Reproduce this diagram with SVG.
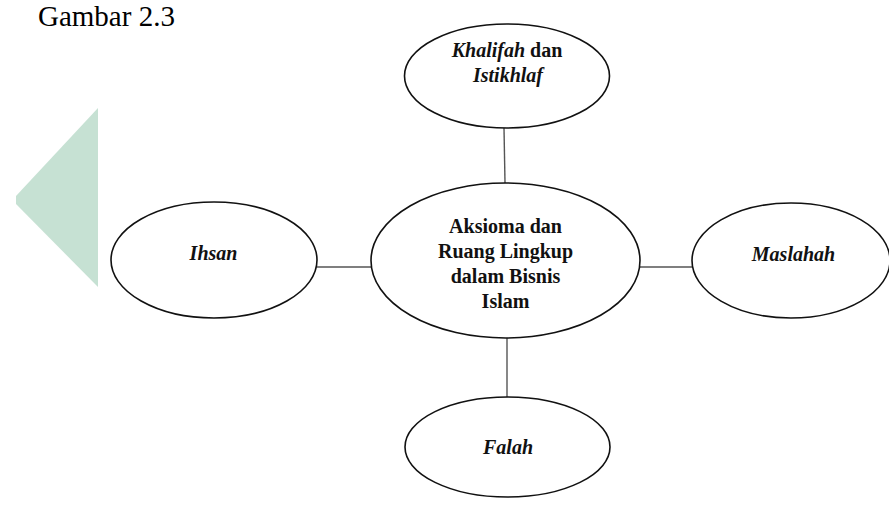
<svg xmlns="http://www.w3.org/2000/svg" width="889" height="510" viewBox="0 0 889 510">
<style>
.node ellipse{fill:#fff;stroke:#111;stroke-width:1.6}
.t{font-family:"Liberation Serif","Times New Roman",serif;font-size:20px;font-weight:bold;fill:#111;text-anchor:middle}
.i{font-style:italic}
.conn line{stroke:#555;stroke-width:1.4}
</style>
<rect width="889" height="510" fill="#fff"/>
<polygon points="98,108 16,196 16,204 98,287" fill="#c6e1d3"/>
<text x="38" y="26" font-family="'Liberation Serif','Times New Roman',serif" font-size="29" fill="#000">Gambar 2.3</text>
<g id="connectors" class="conn">
<line x1="504" y1="128" x2="505" y2="183"/>
<line x1="317" y1="267" x2="371" y2="267"/>
<line x1="640" y1="267" x2="692" y2="267"/>
<line x1="507" y1="337" x2="507" y2="397"/>
</g>
<g id="khalifah" class="node">
<ellipse cx="507" cy="76" rx="102.5" ry="52"/>
<text class="t" x="507" y="57"><tspan class="i">Khalifah</tspan> dan</text>
<text class="t i" x="508" y="82">Istikhlaf</text>
</g>
<g id="aksioma" class="node">
<ellipse cx="505.5" cy="260.5" rx="134.5" ry="77.5"/>
<text class="t" x="505.5" y="233">Aksioma dan</text>
<text class="t" x="505.5" y="258">Ruang Lingkup</text>
<text class="t" x="505.5" y="283">dalam Bisnis</text>
<text class="t" x="505.5" y="308">Islam</text>
</g>
<g id="ihsan" class="node">
<ellipse cx="214" cy="260" rx="103" ry="58"/>
<text class="t i" x="213.5" y="260">Ihsan</text>
</g>
<g id="maslahah" class="node">
<ellipse cx="791" cy="260.5" rx="99" ry="57.5"/>
<text class="t i" x="793.5" y="261">Maslahah</text>
</g>
<g id="falah" class="node">
<ellipse cx="507.5" cy="447" rx="102.5" ry="50"/>
<text class="t i" x="508" y="454">Falah</text>
</g>
</svg>
